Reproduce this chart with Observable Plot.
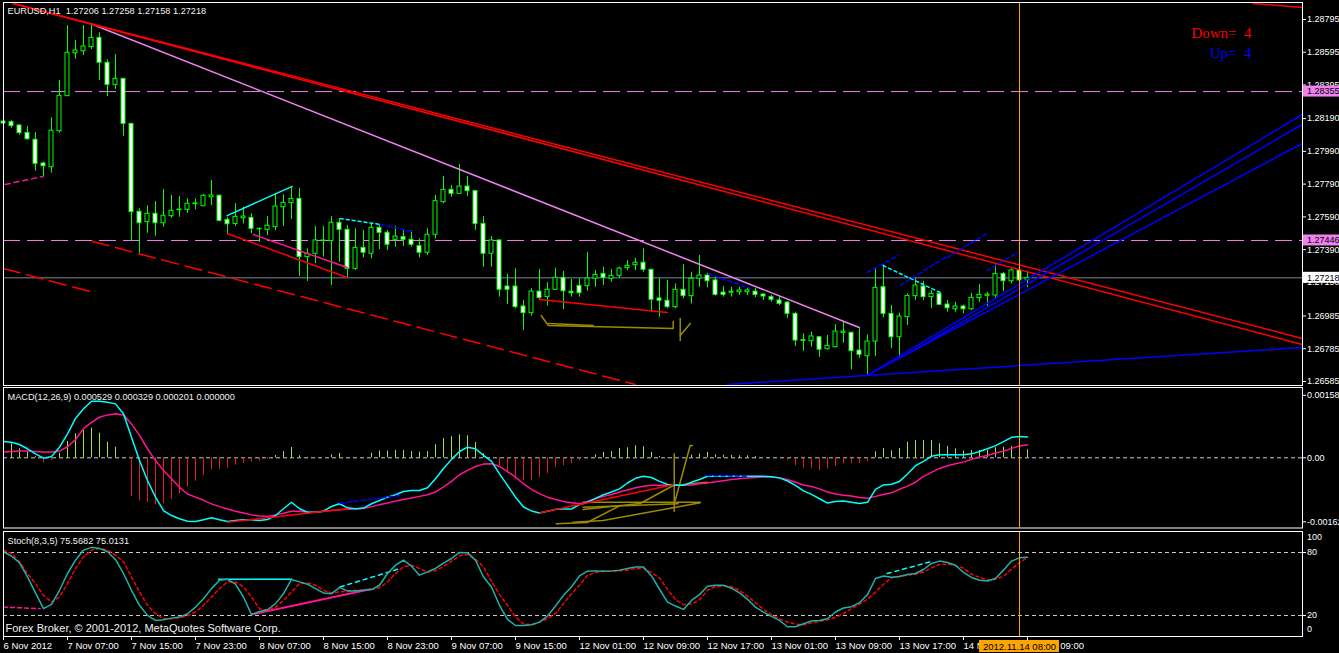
<!DOCTYPE html>
<html>
<head>
<meta charset="utf-8">
<script src="https://cdn.jsdelivr.net/npm/d3@7"></script>
<script src="https://cdn.jsdelivr.net/npm/@observablehq/plot@0.6"></script>
<style>
html,body{margin:0;padding:0;background:#000;}
#chart{position:relative;width:1339px;height:653px;background:#000;overflow:hidden;}
#chart svg{position:absolute;left:0;top:0;}
</style>
</head>
<body>
<div id="chart"></div>
<script>
// ---------------- DATA ----------------
const symbol = "EURUSD,H1";
const timeLabels = ["6 Nov 2012","7 Nov 07:00","7 Nov 15:00","7 Nov 23:00","8 Nov 07:00","8 Nov 15:00","8 Nov 23:00","9 Nov 07:00","9 Nov 15:00","12 Nov 01:00","12 Nov 09:00","12 Nov 17:00","13 Nov 01:00","13 Nov 09:00","13 Nov 17:00","14 Nov 01:00","14 Nov 09:00"];
const tickBars = [0,8,16,24,32,40,48,56,64,72,80,88,96,104,112,120,128];
const crossBar = 127;
const crossLabel = "2012.11.14 08:00";

const open = [
1.28172,1.28168,1.28148,1.28103,1.28061,1.27916,1.27893,1.28113,1.28327,1.28589,
1.28601,1.28626,1.28683,1.28531,1.28396,1.28433,1.28158,1.27621,1.27558,1.27609,
1.27551,1.27594,1.27631,1.27633,1.27668,1.27655,1.27710,1.27719,1.27572,1.27547,
1.27582,1.27584,1.27515,1.27511,1.27527,1.27649,1.27674,1.27700,1.27344,1.27365,
1.27442,1.27442,1.27554,1.27511,1.27273,1.27401,1.27365,1.27523,1.27493,1.27450,
1.27466,1.27450,1.27411,1.27371,1.27481,1.27680,1.27755,1.27731,1.27775,1.27747,
1.27547,1.27365,1.27446,1.27165,1.27165,1.27043,1.27002,1.27134,1.27100,1.27145,
1.27218,1.27133,1.27169,1.27167,1.27212,1.27242,1.27212,1.27230,1.27277,1.27295,
1.27310,1.27267,1.27092,1.27078,1.27039,1.27145,1.27106,1.27212,1.27232,1.27202,
1.27128,1.27127,1.27130,1.27130,1.27134,1.27116,1.27100,1.27080,1.27067,1.26998,
1.26837,1.26831,1.26855,1.26782,1.26794,1.26882,1.26882,1.26774,1.26739,1.26829,
1.27161,1.26998,1.26855,1.26978,1.27106,1.27165,1.27100,1.27120,1.27055,1.27026,
1.27043,1.27026,1.27094,1.27108,1.27110,1.27242,1.27197,1.27263,1.27206];
const high = [
1.28191,1.28178,1.28154,1.28142,1.28105,1.27924,1.28195,1.28423,1.28758,1.28667,
1.28758,1.28769,1.28714,1.28549,1.28581,1.28433,1.28158,1.27639,1.27658,1.27684,
1.27757,1.27721,1.27714,1.27700,1.27700,1.27727,1.27812,1.27725,1.27588,1.27670,
1.27649,1.27609,1.27522,1.27592,1.27731,1.27725,1.27775,1.27765,1.27395,1.27531,
1.27531,1.27592,1.27578,1.27537,1.27517,1.27507,1.27547,1.27543,1.27507,1.27531,
1.27507,1.27507,1.27456,1.27517,1.27721,1.27837,1.27782,1.27910,1.27837,1.27751,
1.27592,1.27470,1.27450,1.27238,1.27273,1.27080,1.27151,1.27269,1.27189,1.27277,
1.27257,1.27208,1.27212,1.27374,1.27263,1.27283,1.27269,1.27283,1.27324,1.27338,
1.27395,1.27269,1.27212,1.27202,1.27181,1.27299,1.27252,1.27354,1.27246,1.27222,
1.27165,1.27161,1.27161,1.27159,1.27153,1.27120,1.27110,1.27104,1.27073,1.27008,
1.26876,1.26886,1.26860,1.26866,1.26931,1.26953,1.26886,1.26913,1.26870,1.27279,
1.27297,1.27049,1.27002,1.27120,1.27212,1.27197,1.27141,1.27130,1.27080,1.27069,
1.27051,1.27124,1.27177,1.27130,1.27297,1.27252,1.27273,1.27269,1.27258];
const low = [
1.28099,1.28131,1.28089,1.28058,1.27869,1.27837,1.27857,1.28101,1.28327,1.28553,
1.28575,1.28612,1.28423,1.28325,1.28368,1.28081,1.27442,1.27368,1.27490,1.27472,
1.27527,1.27582,1.27588,1.27612,1.27633,1.27655,1.27661,1.27558,1.27487,1.27531,
1.27547,1.27487,1.27435,1.27476,1.27507,1.27531,1.27574,1.27226,1.27196,1.27304,
1.27344,1.27171,1.27313,1.27220,1.27263,1.27340,1.27334,1.27391,1.27385,1.27405,
1.27409,1.27405,1.27340,1.27354,1.27456,1.27670,1.27710,1.27727,1.27714,1.27507,
1.27283,1.27283,1.27100,1.27055,1.27029,1.26896,1.26984,1.27080,1.27045,1.27141,
1.27023,1.27100,1.27100,1.27136,1.27161,1.27171,1.27191,1.27214,1.27263,1.27263,
1.27252,1.27008,1.26978,1.27029,1.27029,1.27090,1.27059,1.27161,1.27157,1.27106,
1.27100,1.27100,1.27110,1.27110,1.27098,1.27080,1.27069,1.27049,1.26971,1.26799,
1.26770,1.26794,1.26733,1.26779,1.26791,1.26819,1.26656,1.26727,1.26622,1.26738,
1.26974,1.26785,1.26730,1.26927,1.27080,1.27080,1.27029,1.27049,1.27008,1.27008,
1.26998,1.27018,1.27069,1.27043,1.27090,1.27134,1.27181,1.27191,1.27158];
const close = [
1.28160,1.28144,1.28101,1.28064,1.27914,1.27899,1.28116,1.28329,1.28592,1.28606,
1.28630,1.28683,1.28531,1.28396,1.28433,1.28158,1.27619,1.27551,1.27609,1.27551,
1.27597,1.27627,1.27635,1.27670,1.27672,1.27719,1.27721,1.27566,1.27545,1.27590,
1.27592,1.27517,1.27517,1.27536,1.27653,1.27676,1.27700,1.27344,1.27365,1.27446,
1.27446,1.27554,1.27511,1.27273,1.27401,1.27371,1.27523,1.27493,1.27420,1.27470,
1.27450,1.27420,1.27371,1.27481,1.27686,1.27755,1.27731,1.27775,1.27747,1.27547,
1.27365,1.27446,1.27145,1.27145,1.27039,1.27002,1.27134,1.27094,1.27145,1.27218,
1.27136,1.27124,1.27124,1.27214,1.27236,1.27218,1.27230,1.27275,1.27291,1.27310,
1.27267,1.27084,1.27078,1.27039,1.27145,1.27106,1.27212,1.27232,1.27197,1.27114,
1.27114,1.27134,1.27141,1.27141,1.27114,1.27104,1.27084,1.27059,1.26998,1.26835,
1.26833,1.26860,1.26779,1.26803,1.26890,1.26890,1.26770,1.26748,1.26829,1.27157,
1.26998,1.26855,1.26982,1.27108,1.27171,1.27100,1.27120,1.27053,1.27032,1.27043,
1.27026,1.27096,1.27114,1.27116,1.27242,1.27197,1.27263,1.27202,1.27218];

const priceTicks = [1.28795,1.28595,1.28395,1.28190,1.27990,1.27790,1.27590,1.27390,1.27190,1.26985,1.26785,1.26585];
const dashedLevels = [1.28355, 1.27446];
const bidLevel = 1.27218;

const macdMain = [
.000414,.000396,.000338,.000229,.000102,-.00001,.000033,.000269,.00061,.001,
.001245,.001438,.001438,.001412,.00137,.001118,.000523,-.000069,-.000577,-.001,
-.001339,-.001466,-.001549,-.00161,-.001618,-.001575,-.001524,-.001575,-.001618,-.001593,
-.001575,-.001575,-.001593,-.001567,-.001466,-.001295,-.001128,-.001295,-.001382,-.001382,
-.001356,-.001237,-.001168,-.00127,-.001295,-.001278,-.001168,-.001085,-.001,-.00094,
-.000856,-.00083,-.00083,-.000762,-.000533,-.00027,-.00004,.00016,.00027,.00023,
.00006,-.00009,-.00041,-.0007,-.001,-.00125,-.00135,-.0014,-.00136,-.00131,
-.0013,-.0013,-.00119,-.00113,-.00103,-.00094,-.00087,-.00079,-.00064,-.00052,
-.00047,-.0005,-.0006,-.00068,-.0007,-.0007,-.00062,-.00055,-.00047,-.00047,
-.00047,-.00047,-.00047,-.00047,-.00047,-.00047,-.00048,-.00051,-.00059,-.0007,
-.00084,-.00093,-.00104,-.00115,-.00111,-.0011,-.00113,-.00116,-.00113,-.0008,
-.00069,-.00067,-.0006,-.00041,-.0002,-.00009,.00004,.00008,.00008,.00008,
.00008,.0001,.00016,.00023,.00031,.00041,.00052,.00054,.000529];
const macdSignal = [
.00015,.00016,.00017,.00017,.00016,.00015,.00015,.00017,.00028,.00046,
.00074,.0009,.00103,.00109,.00112,.00109,.00086,.00057,.00023,-.00007,
-.00032,-.00053,-.00075,-.00092,-.001,-.00108,-.00117,-.00124,-.0013,-.00136,
-.0014,-.00145,-.00148,-.00149,-.00145,-.00141,-.00136,-.00136,-.00138,-.00138,
-.00136,-.00134,-.00132,-.00131,-.0013,-.00129,-.00124,-.00119,-.00115,-.0011,
-.00106,-.00102,-.00098,-.00094,-.00087,-.00074,-.0006,-.00043,-.00032,-.00022,
-.00016,-.00015,-.00022,-.00035,-.00049,-.00066,-.0008,-.00091,-.001,-.00106,
-.00111,-.00114,-.00117,-.00111,-.00104,-.00098,-.00093,-.00087,-.00082,-.00076,
-.00072,-.0007,-.0007,-.0007,-.0007,-.0007,-.00069,-.00066,-.00064,-.00061,
-.00058,-.00055,-.00053,-.00051,-.0005,-.00049,-.00049,-.00051,-.00055,-.00062,
-.00069,-.00073,-.00079,-.00087,-.00092,-.00095,-.00097,-.00101,-.00103,-.00098,
-.00093,-.00089,-.0008,-.00072,-.00062,-.00047,-.00037,-.00027,-.0002,-.00015,
-.00011,-.00004,.00002,.00006,.00012,.00017,.00024,.0003,.000329];
const macdHist = [
.000396,.000356,.000229,.000142,.00003,-.000137,-.00007,.000119,.000414,.00061,
.000693,.000752,.000625,.000396,.000269,.00001,-.000983,-.0011,-.001135,-.001194,
-.001168,-.001059,-.000914,-.000747,-.000594,-.00045,-.000305,-.000297,-.000264,-.000188,
-.000145,-.000112,-.000086,-.000043,.000058,.00016,.000262,.00005,.00001,-.00001,
0,.000076,.00011,0,0,0,.00012,.00017,.00017,.000186,
.000186,.00016,.000145,.00016,.00033,.00049,.000533,.000584,.000559,.000389,
.0001,0,-.000203,-.000389,-.000541,-.000584,-.000584,-.0005,-.000399,-.000246,
-.000203,-.000145,-.000076,0,.000076,.000135,.00016,.000236,.000254,.000305,
.00028,.000135,.000033,-.00002,.00001,0,.000068,.000094,.000135,.000076,
.000068,.00006,.00005,.00005,.00003,0,0,0,-.000068,-.000203,
-.000271,-.000271,-.00033,-.000288,-.00022,-.000152,-.000152,-.000144,-.0001,.000152,
.000237,.000178,.000237,.0004,.00044,.00044,.00044,.000356,.000288,.00023,
.00017,.000186,.000186,.000186,.000254,.00027,.000288,.00028,.000201];
const macdExtra = 0.000000;
const macdTicks = [0.001587, 0, -0.001626];

const stochMain = [
80.7,76.6,70.2,56.8,41.5,26.5,30.6,44,60,72.7,
82.3,84.9,83.9,80.7,73.4,60,44,29.7,20.1,15.3,
16,17.5,18.5,21.7,28,36,45.6,53.6,54.5,49.8,
37.6,20.8,23.9,25.5,31.3,40.8,54.3,52,49.8,45.6,
41.5,40.8,46.6,43.4,43.4,44,44.7,48.8,60,67.9,
72.7,67,58.4,61.5,64.8,69.9,74.3,80.1,79.7,72.7,
56.7,47.2,29.7,16.3,10.5,10.5,11.2,13.7,19.4,29,
39.2,47.2,57.7,62.2,62.5,62.2,62.5,63.2,64.8,66.3,
66.3,57.7,45,32.8,29,25.8,34.4,39.9,47.8,48.8,
48.8,46,41.5,35.4,28,23.3,19.1,15.3,9.3,9.3,
12.1,14.7,15.3,16.9,23.3,27.1,28.4,32.2,39.9,55.2,
57.7,56.5,57.1,59,60,63.8,69.6,71.8,70.5,67.9,
61,56.2,53.6,52.9,55.2,63.2,71.8,74.9,75.5682];
const stochSignal = [
82.3,79.1,71.1,60,50.4,39.2,32.8,37.6,50.4,64.8,
75.9,82.3,83.9,82.3,77.5,71.1,56.7,42.4,29.7,21.7,
16.9,16.9,17.9,19.8,23.3,29.7,37.6,45.6,52,52,
47.2,37.6,26.5,24.9,28,34.4,42.4,50.4,51,48.8,
44,41.5,42.4,43.4,44,44,44.7,46.6,52,60,
66.3,67.9,64.8,61.5,62.5,66.7,71.8,76.9,78.1,73.7,
66.3,52.6,39.9,29.7,18.5,12.1,11.2,13.7,16.9,22,
31.3,40.9,48.8,58.4,61,62.2,62.2,62.5,63.2,64.8,
64.8,61,55.8,45,35.1,30.3,30.9,35.1,44,47.6,
48.1,47.4,44,38.3,32.2,25.8,20.8,16.9,13.7,11.8,
11.2,12.8,14.4,16,18.2,21.7,26.5,30.9,35.4,42.4,
49.8,55.8,57.4,58.4,59.3,61.5,65.4,68.6,68.9,67.7,
65.1,59.3,56.2,53.9,54.5,57.4,64.1,70.5,75.0131];
const stochLevels = [80, 20];
const stochEdge = [100, 0];

// drawn objects: [bar index, value] points
const redSolidMain = [
 [[1.21,1.28893],[162.34,1.26848]],
 [[1.21,1.28893],[162.34,1.26811]],
 [[156.2,1.28893],[162.34,1.28868]],
 [[27.96,1.27489],[42.96,1.27220]],
 [[66.96,1.27086],[82.96,1.27006]]];
const redDashedMain = [
 [[11.09,1.27440],[78.96,1.26567]],
 [[-0.04,1.27275],[10.84,1.27134]]];
const violetMain = [[[10.84,1.28771],[106.96,1.26915]]];
const pinkSolidMain = [[[31.21,1.27483],[42.96,1.27281]]];
const pinkDashedMain = [[[0.21,1.27788],[4.96,1.27837]]];
const cyanSolidMain = [[[27.96,1.27598],[36.09,1.27776]]];
const cyanDashedMain = [[[42.09,1.27580],[47.09,1.27544]],[[109.96,1.27293],[117.09,1.27128]]];
const blueSolidMain = [
 [[107.96,1.26622],[162.34,1.28215]],
 [[111.96,1.26725],[162.34,1.28154]],
 [[107.96,1.26622],[162.34,1.28038]],
 [[90.46,1.26567],[162.34,1.26793]]];
const blueDashedMain = [
 [[47.09,1.27544],[51.09,1.27501]],
 [[88.09,1.27244],[93.34,1.27153]],
 [[107.96,1.27250],[111.84,1.27354]],
 [[112.09,1.27171],[117.71,1.27342]],
 [[117.96,1.27342],[122.96,1.27489]],
 [[122.96,1.27263],[126.84,1.27373]]];
const oliveMain = [
 [[67.21,1.26988],[68.09,1.26927],[83.71,1.26909],[83.71,1.26951]],
 [[68.09,1.26939],[73.71,1.26927]],
 [[84.59,1.26970],[84.59,1.26835]],
 [[84.59,1.26866],[85.84,1.26939]]];
const downCount = 4, upCount = 4;

const redSolidMacd = [[[27.96,-0.001636],[42.96,-0.001295]],[[67.09,-0.001397],[83.71,-0.000686]]];
const blueDashedMacd = [[[42.09,-0.001153],[49.59,-0.000958]],[[87.96,-0.00045],[92.96,-0.000467]]];
const oliveMacd = [
 [[69.09,-0.001676],[72.96,-0.001643],[77.09,-0.001212]],
 [[71.21,-0.001636],[74.96,-0.001593],[87.09,-0.001143]],
 [[72.46,-0.001128],[87.09,-0.001128]],
 [[72.46,-0.001255],[84.34,-0.001168]],
 [[72.46,-0.001313],[79.59,-0.001161],[83.71,-0.000704],[87.96,-0.00062]],
 [[83.84,0.000102],[83.84,-0.001364]],
 [[83.96,-0.001085],[85.84,0.000312],[86.12,0.000312]]];

const pinkDashedStoch = [[[0,28],[4.59,26.5]]];
const pinkSolidStoch = [[[31.09,21.1],[45.84,45]]];
const cyanSolidStoch = [[[26.87,54.5],[36.05,54.5]]];
const cyanDashedStoch = [[[42.09,47.2],[49.59,64.8]],[[110.46,60],[115.84,71.1]]];

// ---------------- RENDER ----------------
const W = 1339, H = 653;
const X_DOMAIN = [0, 162.375];
const FONT = "'Liberation Sans', Arial, sans-serif";
const style = {background: "transparent", color: "#ffffff", fontFamily: FONT, fontSize: "9.2px", overflow: "visible"};
const GREEN = "#00ff00", ORANGE = "#ffa500", VIOLET = "#ee82ee", PINK = "#ff1493",
      OLIVE = "#9c8a00", BLUE = "#0000ff", CYAN = "#00ffff", RED = "#ff0000", TXT = "#f0f0f0";
const nb = "\u00a0";
const AXIS_FS = 9;

const N = open.length;
const bars = d3.range(N).map(i => ({i, o: open[i], h: high[i], l: low[i], c: close[i]}));
const series = arr => arr.map((v, i) => ({i, v}));
const flat = groups => groups.flatMap((pts, k) => pts.map(([x, y]) => ({x, y, k})));
const lines = (groups, opts) => Plot.line(flat(groups), {x: "x", y: "y", z: "k", ...opts});
const f5 = v => v.toFixed(5);

const xScale = {type: "linear", domain: X_DOMAIN, axis: null};
const chart = document.getElementById("chart");

// MAIN PANE
const pxPrice = 0.00006105;
const boxOpts = (fill) => ({x1: X_DOMAIN[1] + 0.1, x2: X_DOMAIN[1] + 6, y1: d => d - 5.5 * pxPrice, y2: d => d + 5.5 * pxPrice, fill});
const mainPlot = Plot.plot({
  width: W, height: H, marginLeft: 3, marginRight: 37, marginTop: 2, marginBottom: 268,
  x: xScale,
  y: {type: "linear", domain: [1.265606, 1.288988], axis: null},
  color: {type: "identity"},
  style,
  marks: [
    Plot.ruleY(dashedLevels, {stroke: VIOLET, strokeDasharray: "17,7"}),
    Plot.ruleY([bidLevel], {stroke: "#778899"}),
    Plot.ruleX(bars, {x: "i", y1: "l", y2: "h", stroke: GREEN}),
    Plot.rect(bars, {x1: d => d.i - 0.25, x2: d => d.i + 0.25, y1: "o", y2: "c",
      fill: d => d.c < d.o ? "#ffffff" : "#000000", stroke: GREEN}),
    lines(redDashedMain, {stroke: RED, strokeDasharray: "17,7"}),
    lines(pinkDashedMain, {stroke: PINK, strokeDasharray: "5,4"}),
    lines(violetMain, {stroke: VIOLET}),
    lines(redSolidMain, {stroke: RED}),
    lines(pinkSolidMain, {stroke: PINK}),
    lines(cyanSolidMain, {stroke: CYAN}),
    lines(cyanDashedMain, {stroke: CYAN, strokeDasharray: "3,3"}),
    lines(blueSolidMain, {stroke: BLUE}),
    lines(blueDashedMain, {stroke: BLUE, strokeDasharray: "4,3"}),
    lines(oliveMain, {stroke: OLIVE}),
    Plot.ruleX([crossBar], {stroke: ORANGE}),
    Plot.axisY({anchor: "right", ticks: priceTicks, tickFormat: f5, tickSize: 3, tickPadding: 1.5, fontSize: AXIS_FS, label: null}),
    Plot.rect(dashedLevels, boxOpts(VIOLET)),
    Plot.text(dashedLevels, {x: X_DOMAIN[1], y: d => d, text: f5, dx: 4.5, textAnchor: "start", fill: "#000000", fontSize: AXIS_FS}),
    Plot.rect([bidLevel], boxOpts("#ffffff")),
    Plot.text([bidLevel], {x: X_DOMAIN[1], y: d => d, text: f5, dx: 4.5, textAnchor: "start", fill: "#000000", fontSize: AXIS_FS}),
    Plot.frame({stroke: "#ffffff"}),
    Plot.text([`${symbol}${nb} ${f5(open[N-1])} ${f5(high[N-1])} ${f5(low[N-1])} ${f5(close[N-1])}`],
      {frameAnchor: "top-left", dx: 4, dy: 9, textAnchor: "start", lineAnchor: "middle", fill: TXT}),
    Plot.text([`Down=${nb} ${downCount}`], {frameAnchor: "top-right", dx: -51, dy: 31, textAnchor: "end", lineAnchor: "middle",
      fill: RED, fontFamily: "'Liberation Serif', 'Times New Roman', serif", fontSize: 15}),
    Plot.text([`Up=${nb} ${upCount}`], {frameAnchor: "top-right", dx: -51, dy: 51, textAnchor: "end", lineAnchor: "middle",
      fill: BLUE, fontFamily: "'Liberation Serif', 'Times New Roman', serif", fontSize: 15})
  ]
});
chart.appendChild(mainPlot);

// MACD PANE
const histData = series(macdHist);
const macdPlot = Plot.plot({
  width: W, height: H, marginLeft: 3, marginRight: 37, marginTop: 387, marginBottom: 125.5,
  x: xScale,
  y: {type: "linear", domain: [-0.0017831, 0.0017856], axis: null},
  color: {type: "identity"},
  style,
  marks: [
    Plot.ruleY([0], {stroke: "#c8c8c8", strokeDasharray: "4,3"}),
    Plot.ruleX(histData, {x: "i", y1: 0, y2: "v", stroke: d => d.v >= 0 ? "#a2e83c" : "#e41c1c"}),
    lines(oliveMacd, {stroke: OLIVE}),
    Plot.line(series(macdSignal), {x: "i", y: "v", stroke: PINK}),
    Plot.line(series(macdMain), {x: "i", y: "v", stroke: CYAN}),
    lines(redSolidMacd, {stroke: RED}),
    lines(blueDashedMacd, {stroke: BLUE, strokeDasharray: "4,3"}),
    Plot.ruleX([crossBar], {stroke: ORANGE}),
    Plot.axisY({anchor: "right", ticks: macdTicks, tickFormat: d => d === 0 ? "0.00" : d.toFixed(6), tickSize: 3, tickPadding: 1.5, fontSize: AXIS_FS, label: null}),
    Plot.frame({stroke: "#ffffff"}),
    Plot.text([`MACD(12,26,9) ${macdMain[N-1].toFixed(6)} ${macdSignal[N-1].toFixed(6)} ${macdHist[N-1].toFixed(6)} ${macdExtra.toFixed(6)}`],
      {frameAnchor: "top-left", dx: 4, dy: 10, textAnchor: "start", lineAnchor: "middle", fill: TXT})
  ]
});
chart.appendChild(macdPlot);

// STOCH PANE
const stochPlot = Plot.plot({
  width: W, height: H, marginLeft: 3, marginRight: 37, marginTop: 531, marginBottom: 17,
  x: xScale,
  y: {type: "linear", domain: [0, 100], axis: null},
  color: {type: "identity"},
  style,
  marks: [
    Plot.ruleY(stochLevels, {stroke: "#c8c8c8", strokeDasharray: "4,3"}),
    lines(pinkDashedStoch, {stroke: PINK, strokeDasharray: "4,3"}),
    lines(cyanSolidStoch, {stroke: CYAN}),
    lines(pinkSolidStoch, {stroke: PINK, strokeWidth: 2}),
    lines(cyanDashedStoch, {stroke: CYAN, strokeDasharray: "4,4"}),
    Plot.line(series(stochSignal), {x: "i", y: "v", stroke: RED, strokeDasharray: "3,3"}),
    Plot.line(series(stochMain), {x: "i", y: "v", stroke: "#20b2aa"}),
    Plot.ruleX([crossBar], {stroke: ORANGE}),
    Plot.axisY({anchor: "right", ticks: stochLevels, tickFormat: d => String(d), tickSize: 3, tickPadding: 1.5, fontSize: AXIS_FS, label: null}),
    Plot.text([stochEdge[0]], {x: X_DOMAIN[1], y: d => d, text: d => String(d), dx: 4.5, dy: 6, textAnchor: "start", fill: "#ffffff", fontSize: AXIS_FS}),
    Plot.text([stochEdge[1]], {x: X_DOMAIN[1], y: d => d, text: d => String(d), dx: 4.5, dy: -7, textAnchor: "start", fill: "#ffffff", fontSize: AXIS_FS}),
    Plot.axisX({anchor: "bottom", ticks: tickBars, tickFormat: d => timeLabels[tickBars.indexOf(d)], tickSize: 4, tickPadding: 2,
      textAnchor: "start", fontSize: 9.5, label: null}),
    Plot.frame({stroke: "#ffffff"}),
    Plot.rect([crossBar], {x1: d => d - 5, x2: d => d + 5, y1: -3.8, y2: -15.3, fill: ORANGE}),
    Plot.text([crossBar], {x: d => d, y: -9.6, text: () => crossLabel, fill: "#000000", textAnchor: "middle", fontSize: 9.5}),
    Plot.text([`Stoch(8,3,5) ${stochMain[N-1].toFixed(4)} ${stochSignal[N-1].toFixed(4)}`],
      {frameAnchor: "top-left", dx: 4, dy: 10, textAnchor: "start", lineAnchor: "middle", fill: TXT}),
    Plot.text(["Forex Broker, \u00a9 2001-2012, MetaQuotes Software Corp."],
      {frameAnchor: "bottom-left", dx: 2, dy: -8, textAnchor: "start", lineAnchor: "middle", fill: TXT, fontSize: 11})
  ]
});
chart.appendChild(stochPlot);
</script>
</body>
</html>
